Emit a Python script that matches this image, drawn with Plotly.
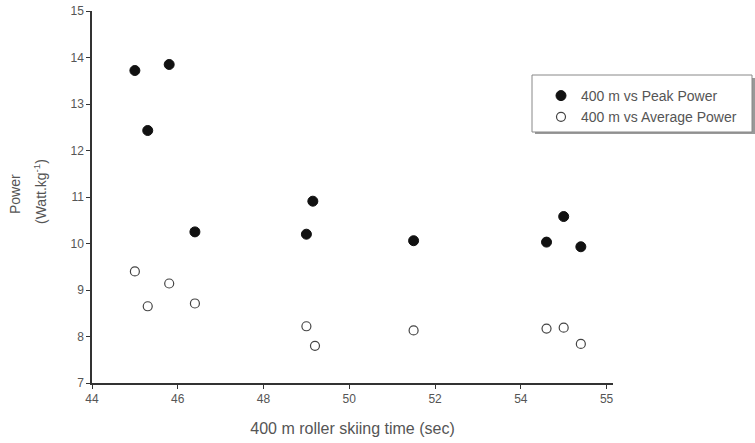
import plotly.graph_objects as go

# Data
time_sec = [45.0, 45.3, 45.8, 46.4, 49.0, 49.15, 51.5, 54.6, 55.0, 55.4]
peak_power = [13.72, 12.43, 13.85, 10.25, 10.20, 10.91, 10.06, 10.03, 10.58, 9.93]
avg_power = [9.40, 8.65, 9.14, 8.71, 8.22, 7.80, 8.13, 8.17, 8.19, 7.84]
time_avg = [45.0, 45.3, 45.8, 46.4, 49.0, 49.2, 51.5, 54.6, 55.0, 55.4]

x_tickvals = [44, 46, 48, 50, 52, 54, 56]
x_ticktext = ["44", "46", "48", "50", "52", "54", "55"]
y_tickvals = [7, 8, 9, 10, 11, 12, 13, 14, 15]

W, H = 755, 443
L, T = 92, 11
R = W - 613
B = H - 383
pw, ph = W - L - R, H - T - B

def px(x):
    return (x - L) / pw

def py(y):
    return (H - B - y) / ph

FONT = "Liberation Sans, Arial, sans-serif"
GRAY = "#555555"

fig = go.Figure()
fig.add_trace(go.Scatter(
    x=time_sec, y=peak_power, mode="markers", name="400 m vs Peak Power",
    marker=dict(symbol="circle", size=10, color="#111111",
                line=dict(color="#111111", width=1)),
))
fig.add_trace(go.Scatter(
    x=time_avg, y=avg_power, mode="markers", name="400 m vs Average Power",
    marker=dict(symbol="circle-open", size=9, color="#444444",
                line=dict(color="#444444", width=1.2)),
))

tick_font = dict(family=FONT, size=12, color=GRAY)

fig.update_layout(
    width=W, height=H,
    margin=dict(l=L, r=R, t=T, b=B, autoexpand=False),
    paper_bgcolor="white", plot_bgcolor="white",
    showlegend=True,
    legend=dict(
        x=px(541), y=py(80), xanchor="left", yanchor="top",
        bgcolor="rgba(0,0,0,0)", borderwidth=0,
        font=dict(family=FONT, size=14, color=GRAY),
        tracegroupgap=0,
    ),
    xaxis=dict(
        range=[44, 56.15], tickvals=x_tickvals, ticktext=x_ticktext,
        showgrid=False, zeroline=False, showline=True, automargin=False,
        linecolor="#333333", linewidth=1.5,
        ticks="outside", ticklen=4, tickcolor="#333333", tickwidth=1,
        tickfont=tick_font,
        title=dict(text="400 m roller skiing time (sec)",
                   font=dict(family=FONT, size=16, color=GRAY),
                   standoff=18),
    ),
    yaxis=dict(
        range=[7, 15], tickvals=y_tickvals,
        showgrid=False, zeroline=False, showline=True, automargin=False,
        linecolor="#333333", linewidth=1.5,
        ticks="outside", ticklen=4, tickcolor="#333333", tickwidth=1,
        tickfont=tick_font,
    ),
    annotations=[
        dict(text="Power", xref="paper", yref="paper",
             x=px(15), y=py(194), xanchor="center", yanchor="middle",
             textangle=-90, showarrow=False,
             font=dict(family=FONT, size=14, color=GRAY)),
        dict(text="(Watt.kg<sup>-1</sup>)", xref="paper", yref="paper",
             x=px(40), y=py(192), xanchor="center", yanchor="middle",
             textangle=-90, showarrow=False,
             font=dict(family=FONT, size=14, color=GRAY)),
    ],
    shapes=[
        dict(type="rect", xref="paper", yref="paper",
             x0=px(535), x1=px(755), y0=py(134), y1=py(78),
             fillcolor="#999999", line=dict(width=0), layer="above"),
        dict(type="rect", xref="paper", yref="paper",
             x0=px(532), x1=px(752), y0=py(132), y1=py(75),
             fillcolor="white", line=dict(color="#888888", width=1), layer="above"),
    ],
)

fig.write_html(
    "out.html",
    config={"displayModeBar": False},
    post_script="document.body.style.margin='0';document.body.style.overflow='hidden';",
)
